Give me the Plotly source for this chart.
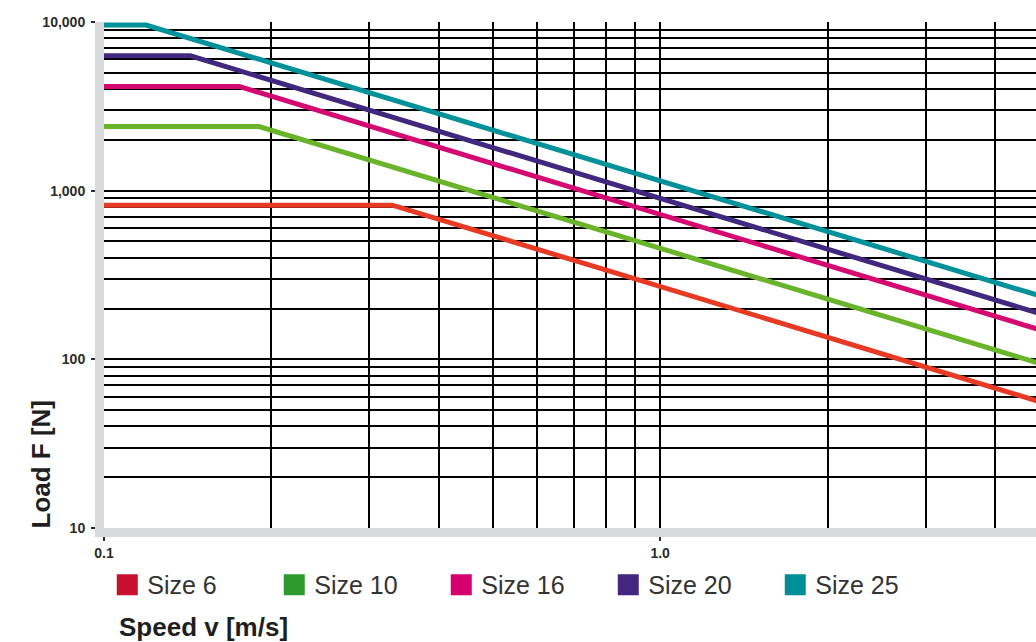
import plotly.graph_objects as go
import math

# ---- data ----
sizes = ["Size 6", "Size 10", "Size 16", "Size 20", "Size 25"]
speed_size6 = [0.1, 0.33, 5.0]
load_size6 = [820, 820, 54]
speed_size10 = [0.1, 0.19, 5.0]
load_size10 = [2400, 2400, 91]
speed_size16 = [0.1, 0.175, 5.0]
load_size16 = [4150, 4150, 144]
speed_size20 = [0.1, 0.143, 5.0]
load_size20 = [6300, 6300, 180]
speed_size25 = [0.1, 0.119, 5.0]
load_size25 = [9600, 9600, 229]

speeds = [speed_size6, speed_size10, speed_size16, speed_size20, speed_size25]
loads = [load_size6, load_size10, load_size16, load_size20, load_size25]

line_colors = ["#e63a24", "#6ab42c", "#d40a72", "#40287f", "#00919a"]
legend_colors = ["#c8102e", "#2d9a2f", "#d5006e", "#41277f", "#008f95"]

x_min, x_max = 0.1, 4.74
y_min, y_max = 10, 10000

fig = go.Figure()

for name, xs, ys, col in zip(sizes, speeds, loads, line_colors):
    fig.add_trace(go.Scatter(x=xs, y=ys, mode="lines", name=name,
                             line=dict(color=col, width=5),
                             showlegend=False, legendgroup=name))

for name, col in zip(sizes, legend_colors):
    fig.add_trace(go.Scatter(x=[None], y=[None], mode="markers", name=name,
                             marker=dict(symbol="square", size=16, color=col,
                                         line=dict(width=5, color=col)),
                             legendgroup=name))

text_col = "#2b2b2b"
tick_font = dict(family="Liberation Sans, Arial, sans-serif", size=14,
                 color=text_col, weight="bold")
grid = dict(showgrid=True, gridcolor="black", gridwidth=1.5)
axis_common = dict(type="log", dtick=1, showline=True, linecolor="#d9dadc",
                   linewidth=9, ticks="outside", ticklen=4, tickwidth=2,
                   tickcolor=text_col, tickfont=tick_font, zeroline=False,
                   minor=dict(dtick="D1", showgrid=True, gridcolor="black",
                              gridwidth=1.5, ticks=""),
                   **grid)

fig.update_xaxes(range=[math.log10(x_min), math.log10(x_max)],
                 tickformat=".1f", ticklabelstandoff=0, **axis_common)
fig.update_yaxes(range=[math.log10(y_min), math.log10(y_max)],
                 tickformat=",d", ticklabelstandoff=3, **axis_common)

fig.update_layout(
    width=1036, height=642,
    margin=dict(l=104, r=0, t=22, b=114),
    plot_bgcolor="white", paper_bgcolor="white",
    font=dict(family="Liberation Sans, Arial, sans-serif", color=text_col),
    legend=dict(orientation="h", x=0.0035, xanchor="left", y=-0.067,
                yanchor="top", font=dict(size=25, color="#333333"),
                entrywidth=122, entrywidthmode="pixels",
                bgcolor="rgba(0,0,0,0)", traceorder="normal"),
    annotations=[
        dict(text="<b>Speed v [m/s]</b>", xref="paper", yref="paper",
             x=(117 - 104) / 932, y=(528 - 627) / 506, xanchor="left",
             yanchor="middle", showarrow=False,
             font=dict(size=26, color="#1f1f1f")),
        dict(text="<b>Load F [N]</b>", xref="paper", yref="paper",
             x=(40 - 104) / 932, y=-3 / 506, xanchor="center", yanchor="bottom",
             textangle=-90, showarrow=False,
             font=dict(size=26, color="#1f1f1f")),
    ],
)

fig.write_html("out.html", config={"displayModeBar": False},
               post_script="document.body.style.margin='0';")
